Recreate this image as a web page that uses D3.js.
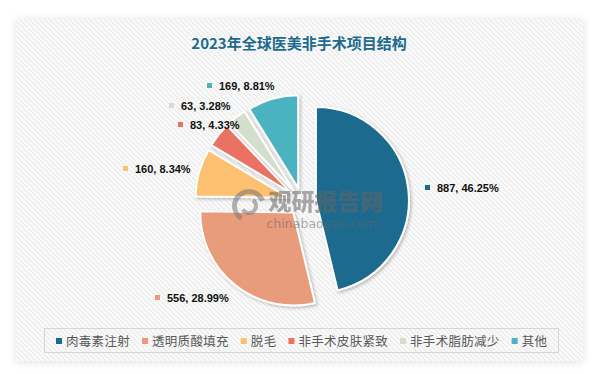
<!DOCTYPE html>
<html><head><meta charset="utf-8">
<script src="https://cdn.jsdelivr.net/npm/d3@7/dist/d3.min.js"></script>
<style>
html,body{margin:0;padding:0;background:#fff;}
svg{display:block;}
</style></head>
<body>
<svg id="c" width="595" height="374"></svg>
<script>
const title = "2023年全球医美非手术项目结构";
const categories = ["肉毒素注射","透明质酸填充","脱毛","非手术皮肤紧致","非手术脂肪减少","其他"];
const values = [887, 556, 160, 83, 63, 169];
const percents = ["46.25%","28.99%","8.34%","4.33%","3.28%","8.81%"];
const colors = ["#1c6b8e","#e89c7b","#fec071","#e97262","#d2dfcc","#4cb3c0"];
// label anchor points (marker left / text baseline) for data labels
const labelPos = [[425,192],[155,302],[123,173],[178,129],[169,110],[207,90]];

const svg = d3.select("#c");
const defs = svg.append("defs");
const pat = defs.append("pattern").attr("id","hatch").attr("patternUnits","userSpaceOnUse")
  .attr("width",5).attr("height",5);
pat.append("rect").attr("width",5).attr("height",5).attr("fill","#fafafa");
pat.append("path").attr("d","M-1,-1 L6,6 M-1,4 L1,6 M4,-1 L6,1").attr("stroke","#eaeaea").attr("stroke-width",1.2);
const fs = defs.append("filter").attr("id","cardsh").attr("x","-10%").attr("y","-10%").attr("width","120%").attr("height","120%");
fs.append("feDropShadow").attr("dx",0).attr("dy",1).attr("stdDeviation",4).attr("flood-color","#000").attr("flood-opacity",0.12);
const ps = defs.append("filter").attr("id","slsh").attr("x","-20%").attr("y","-20%").attr("width","140%").attr("height","140%");
ps.append("feDropShadow").attr("dx",1.5).attr("dy",1.5).attr("stdDeviation",1.5).attr("flood-color","#000").attr("flood-opacity",0.25);

// card
svg.append("rect").attr("x",16).attr("y",19).attr("width",567).attr("height",342)
  .attr("fill","#fafafa").attr("filter","url(#cardsh)");
svg.append("rect").attr("x",16).attr("y",19).attr("width",567).attr("height",342)
  .attr("fill","url(#hatch)");

// title
svg.append("text").attr("x",299).attr("y",49).attr("text-anchor","middle")
  .attr("font-family","'Noto Sans CJK SC','Noto Sans',sans-serif").attr("font-weight","bold")
  .attr("font-size",15).attr("fill","#1d6a8d").text(title);

// pie
const cx = 302, cy = 201.6, R = 93, explode = 14;
const pie = d3.pie().sort(null).value(d=>d.v).startAngle(0).endAngle(2*Math.PI);
const data = pie(values.map((v,i)=>({v,i})));
const arc = d3.arc().innerRadius(0).outerRadius(R);
const g = svg.append("g").attr("transform",`translate(${cx},${cy})`);
g.selectAll("path").data(data).join("path")
  .attr("d",arc)
  .attr("transform",d=>{const a=(d.startAngle+d.endAngle)/2;return `translate(${explode*Math.sin(a)},${-explode*Math.cos(a)})`;})
  .attr("fill",d=>colors[d.data.i]).attr("stroke","#fff").attr("stroke-width",2)
  .attr("stroke-linejoin","round").attr("filter","url(#slsh)");

// data labels
const lg = svg.append("g");
values.forEach((v,i)=>{
  const [x,y]=labelPos[i];
  lg.append("rect").attr("x",x).attr("y",y-7).attr("width",5).attr("height",5).attr("fill",colors[i]);
  lg.append("text").attr("x",x+12).attr("y",y).attr("font-family","'Liberation Sans',Arial,sans-serif")
    .attr("font-weight","bold").attr("font-size",11).attr("fill","#111").text(`${v}, ${percents[i]}`);
});

// watermark
const wm = svg.append("g").attr("opacity",0.55);
const la = d3.arc();
wm.append("path").attr("transform","translate(249,206)")
  .attr("d",la({innerRadius:12,outerRadius:17,startAngle:-2.6,endAngle:1.2})).attr("fill","#777");
wm.append("path").attr("transform","translate(249,206)")
  .attr("d",la({innerRadius:5,outerRadius:9,startAngle:0.6,endAngle:4.2})).attr("fill","#777");
wm.append("text").attr("x",326).attr("y",210).attr("text-anchor","middle")
  .attr("font-family","'Noto Sans CJK SC',sans-serif").attr("font-weight","900").attr("font-size",23)
  .attr("fill","#666").text("观研报告网");
wm.append("text").attr("x",322).attr("y",228).attr("text-anchor","middle")
  .attr("font-family","'DejaVu Sans',sans-serif").attr("font-size",12.5)
  .attr("fill","#666").text("chinabaogao.com");

// legend
const leg = svg.append("g");
leg.append("rect").attr("x",44.5).attr("y",328.5).attr("width",514).attr("height",24)
  .attr("fill","none").attr("stroke","#d6d6d6").attr("stroke-width",1);
let lx = 56;
categories.forEach((c,i)=>{
  leg.append("rect").attr("x",lx).attr("y",338).attr("width",6).attr("height",6).attr("fill",colors[i]);
  const t = leg.append("text").attr("x",lx+10).attr("y",345.5)
    .attr("font-family","'Noto Sans CJK SC',sans-serif").attr("font-size",12.5)
    .attr("letter-spacing",0.3).attr("fill","#595959").text(c);
  lx += 10 + t.node().getComputedTextLength() + 12;
});
</script>
</body></html>
